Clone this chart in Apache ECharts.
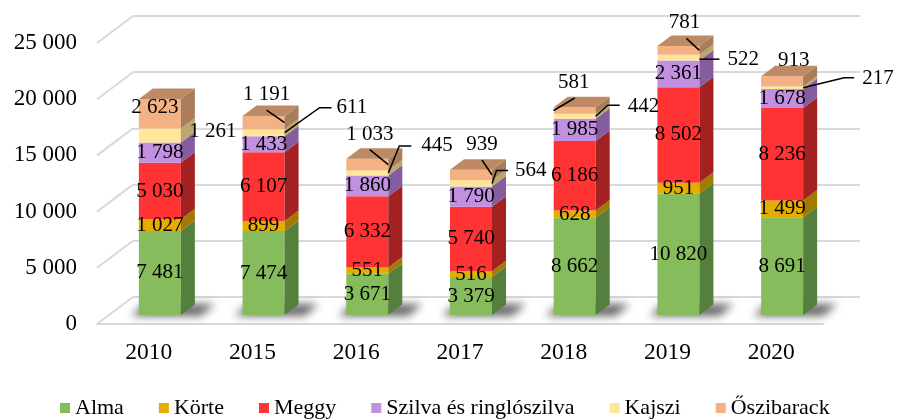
<!DOCTYPE html>
<html><head><meta charset="utf-8">
<script src="https://cdn.jsdelivr.net/npm/echarts@6/dist/echarts.min.js"></script>
<style>html,body{margin:0;padding:0;background:#fff}#c{width:897px;height:419px}</style>
</head><body><div id="c"></div>
<script>
const categories = ['2010','2015','2016','2017','2018','2019','2020'];
const alma       = [7481, 7474, 3671, 3379, 8662, 10820, 8691];
const korte      = [1027, 899, 551, 516, 628, 951, 1499];
const meggy      = [5030, 6107, 6332, 5740, 6186, 8502, 8236];
const szilva     = [1798, 1433, 1860, 1790, 1985, 2361, 1678];
const kajszi     = [1261, 611, 445, 564, 442, 522, 217];
const oszibarack = [2623, 1191, 1033, 939, 581, 781, 913];
const seriesNames = ['Alma','Körte','Meggy','Szilva és ringlószilva','Kajszi','Őszibarack'];
const yTicks = [0, 5000, 10000, 15000, 20000, 25000];

const values = [alma, korte, meggy, szilva, kajszi, oszibarack];
const frontColors = ['#86BC5C','#E5AD00','#FF3333','#C290E0','#FFE699','#F4B183'];
const sideColors  = ['#557F3C','#A27A00','#A32121','#855D9E','#B9A76B','#A97C5C'];
const topColors   = ['#6E9F4A','#C29300','#CC2828','#A677C2','#DCC67E','#BE8A66'];
const FONT = '"Liberation Serif", "Times New Roman", serif';
const DX = 14, DY = -10.5, BAR_W = 42, LABEL_SIZE = 21;
const GRID_COLOR = '#D9D9D9';

// Placement overrides for labels (offsets relative to segment centre)
const placements = {
  4: {
    0: {t:[53,-4.5], a:'center'},
    1: {t:[73,-25], a:'left', l:[[21,0],[56,-25],[68,-25]]},
    2: {t:[54,-27], a:'left', l:[[21,0],[32,-27],[44,-27]]},
    3: {t:[44,-13], a:'left', l:[[21,0],[25.5,-13],[37,-13]]},
    4: {t:[53,-10], a:'left', l:[[21,0],[33,-11],[45,-11]]},
    5: {t:[49,2],   a:'left', l:[[21,1.5],[41,1.5]]},
    6: {t:[80,-9],  a:'left', l:[[21,0],[62,-10],[72,-10]]}
  },
  5: {
    0: {t:[-5,-6], a:'center'},
    1: {t:[3,-28], a:'center', l:[[3,-12.5],[21,0]]},
    2: {t:[2.5,-30], a:'center', l:[[2.5,-15],[21,0]]},
    3: {t:[11,-30.5], a:'center', l:[[11,-15],[21,0]]},
    4: {t:[-1,-28], a:'center', l:[[0,-12.5],[-21,0]]},
    5: {t:[6,-28], a:'center', l:[[8,-12],[21,0]]},
    6: {t:[11.5,-21], a:'center'}
  }
};

function fmt(v){ return String(v).replace(/\B(?=(\d{3})+(?!\d))/g, ' '); }

// stacked data [index, base, top]
const stacked = values.map(() => []);
categories.forEach((c, i) => {
  let acc = 0;
  values.forEach((arr, k) => { stacked[k].push([i, acc, acc + arr[i]]); acc += arr[i]; });
});

function segRender(k){
  return function(params, api){
    const i = api.value(0), b = api.value(1), t = api.value(2);
    const pb = api.coord([i, b]), pt = api.coord([i, t]);
    const xc = pb[0], x0 = xc - BAR_W/2, x1 = xc + BAR_W/2, yb = pb[1], yt = pt[1];
    const ch = [
      {type:'rect', shape:{x:x0, y:yt, width:BAR_W, height:yb-yt}, style:{fill:frontColors[k]}},
      {type:'polygon', shape:{points:[[x1,yb],[x1+DX,yb+DY],[x1+DX,yt+DY],[x1,yt]]}, style:{fill:sideColors[k]}}
    ];
    if (k === values.length - 1) {
      ch.push({type:'polygon', shape:{points:[[x0,yt],[x0+DX,yt+DY],[x1+DX,yt+DY],[x1,yt]]}, style:{fill:topColors[k]}});
    }
    return {type:'group', children:ch};
  };
}

function labRender(k){
  return function(params, api){
    const i = api.value(0), b = api.value(1), t = api.value(2);
    const pb = api.coord([i, b]), pt = api.coord([i, t]);
    const ax = pb[0], ay = (pb[1] + pt[1]) / 2;
    const pl = (placements[k] || {})[i];
    const ch = [];
    let tx = ax, ty = ay, align = 'center';
    if (pl) {
      tx = ax + pl.t[0]; ty = ay + pl.t[1]; align = pl.a || 'center';
      if (pl.l) ch.push({type:'polyline', shape:{points:pl.l.map(p => [ax+p[0], ay+p[1]])},
                         style:{stroke:'#000', lineWidth:1.5, fill:null}});
    }
    ch.push({type:'text', x:tx, y:ty, style:{text:fmt(values[k][i]), fill:'#000',
      fontSize:LABEL_SIZE, fontFamily:FONT, align:align, textAlign:align,
      verticalAlign:'middle', textVerticalAlign:'middle'}});
    return {type:'group', children:ch};
  };
}

function shadowRender(params, api){
  const i = api.value(0);
  const p = api.coord([i, 0]);
  const x0 = p[0] - BAR_W/2, x1 = p[0] + BAR_W/2, yb = p[1];
  const OFF = 2000;
  const pts = [[x0-8,yb+1],[x0+6,yb-11],[x1+DX+20,yb-11],[x1+DX+6,yb+1]].map(q => [q[0]-OFF, q[1]]);
  return {type:'polygon', shape:{points:pts},
    style:{fill:'#000', shadowBlur:9, shadowColor:'rgba(0,0,0,0.6)', shadowOffsetX:OFF, shadowOffsetY:0}};
}

function diagRender(params, api){
  const v = api.value(1);
  const y = api.coord([0, v])[1];
  const x0 = params.coordSys.x;
  return {type:'line', shape:{x1:x0, y1:y, x2:x0+36, y2:y-27}, style:{stroke:GRID_COLOR, lineWidth:2}};
}

const chart = echarts.init(document.getElementById('c'), null, {renderer:'canvas'});
const series = [];
series.push({type:'custom', name:'diag', xAxisIndex:0, yAxisIndex:0, renderItem:diagRender,
  data:yTicks.map(v => [0, v]), silent:true, z:1});
series.push({type:'custom', name:'shadow', xAxisIndex:1, yAxisIndex:1, renderItem:shadowRender,
  data:categories.map((c, i) => [i, 0]), silent:true, z:2});
values.forEach((arr, k) => {
  series.push({type:'custom', name:seriesNames[k], xAxisIndex:1, yAxisIndex:1, renderItem:segRender(k),
    itemStyle:{color:frontColors[k]}, data:stacked[k], z:3});
});
values.forEach((arr, k) => {
  series.push({type:'custom', name:'lab'+k, xAxisIndex:1, yAxisIndex:1, renderItem:labRender(k),
    data:stacked[k], z:6, silent:true});
});

chart.setOption({
  animation:false,
  backgroundColor:'#fff',
  grid:[
    {left:97, top:43, width:726, height:281},   // front plane (labels)
    {left:108, top:34, width:726, height:281},  // bar front plane
    {left:133, top:16, width:727, height:281}   // back wall
  ],
  xAxis:[
    {type:'category', gridIndex:0, data:categories,
     axisLine:{show:true, lineStyle:{color:GRID_COLOR, width:2}}, axisTick:{show:false},
     axisLabel:{color:'#000', fontSize:23.5, fontFamily:FONT, margin:17}},
    {type:'category', gridIndex:1, data:categories, show:false},
    {type:'category', gridIndex:2, data:categories, show:false}
  ],
  yAxis:[
    {type:'value', gridIndex:0, min:0, max:25000, interval:5000,
     axisLine:{show:false}, axisTick:{show:false}, splitLine:{show:false},
     axisLabel:{color:'#000', fontSize:23, fontFamily:FONT, margin:20, formatter:fmt}},
    {type:'value', gridIndex:1, min:0, max:25000, interval:5000, show:false, splitLine:{show:false}},
    {type:'value', gridIndex:2, min:0, max:25000, interval:5000,
     axisLine:{show:false}, axisTick:{show:false}, axisLabel:{show:false},
     splitLine:{show:true, lineStyle:{color:GRID_COLOR, width:2}}}
  ],
  legend:{
    data:seriesNames, left:55, top:392, icon:'rect', itemWidth:10, itemHeight:10, itemGap:35,
    textStyle:{color:'#000', fontSize:22, fontFamily:FONT}
  },
  series:series
});
</script></body></html>
